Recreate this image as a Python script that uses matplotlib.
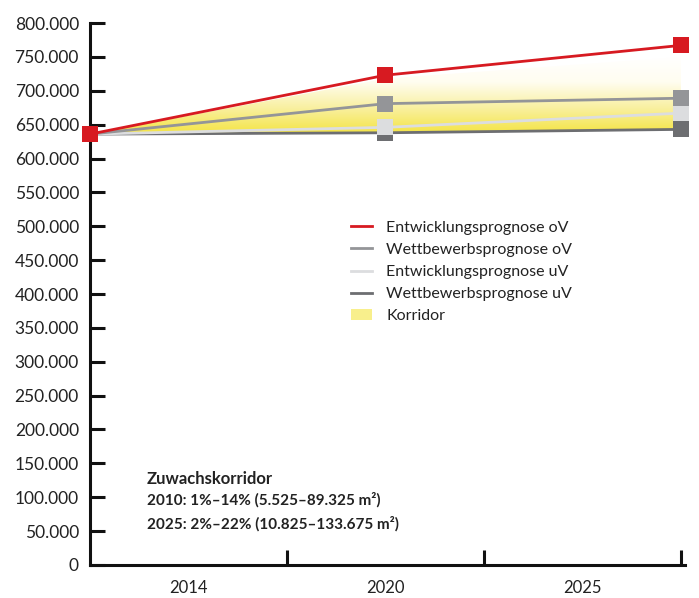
import numpy as np
import matplotlib
matplotlib.use("Agg")
import matplotlib.pyplot as plt
from matplotlib.colors import LinearSegmentedColormap
from matplotlib.patches import Rectangle
from matplotlib.ticker import FuncFormatter

plt.rcParams['font.family'] = ['Lato', 'DejaVu Sans']

# data
years = ["2010", "2020", "2025"]
tick_labels = ["2014", "2020", "2025"]
entw_ov = [636000, 723000, 767000]
wett_ov = [636000, 681000, 689000]
entw_uv = [636000, 646000, 667000]
wett_uv = [636000, 638000, 643000]
korridor_top = [636000, 718000, 750000]
korridor_bottom = [636000, 638000, 643000]

series = [
    ("Wettbewerbsprognose uV", wett_uv, "#6d6e71"),
    ("Entwicklungsprognose uV", entw_uv, "#dcdddf"),
    ("Wettbewerbsprognose oV", wett_ov, "#949598"),
    ("Entwicklungsprognose oV", entw_ov, "#d71a21"),
]

x = np.arange(len(years)) * 1.5

fig = plt.figure(figsize=(6.99, 5.98), dpi=100)
ax = fig.add_axes([0.1288, 0.0552, 0.851, 0.9063])

# corridor with vertical gradient white -> yellow
poly = ax.fill_between(x, korridor_bottom, korridor_top, color="none", lw=0)
cmap = LinearSegmentedColormap.from_list("korr", ["#f4e443", "#f9f0a0", "#fffdf0", "#ffffff"])
grad = np.linspace(0, 1, 256).reshape(-1, 1)
img = ax.imshow(grad, cmap=cmap, aspect="auto", origin="lower",
                extent=[x[0], x[-1], min(korridor_bottom), max(korridor_top)], zorder=1)
img.set_clip_path(poly.get_paths()[0], transform=ax.transData)

handles = []
for i, (name, vals, col) in enumerate(series):
    ln, = ax.plot(x, vals, color=col, lw=2.0, marker="s", markersize=11,
                  markeredgewidth=0, zorder=3 + i, clip_on=False, label=name)
    handles.append(ln)

ax.set_xlim(0, 3.02)
ax.set_ylim(0, 800000)

for s in ["top", "right"]:
    ax.spines[s].set_visible(False)
for s in ["left", "bottom"]:
    ax.spines[s].set_linewidth(2.2)
    ax.spines[s].set_color("#111111")
    ax.spines[s].set_zorder(2)

ax.set_yticks(np.arange(0, 800001, 50000))
ax.yaxis.set_major_formatter(FuncFormatter(lambda v, p: "0" if v == 0 else f"{int(v):,}".replace(",", ".")))
ax.tick_params(axis="y", direction="in", length=11, width=2.2, color="#111111",
               labelsize=12.5, pad=8, labelcolor="#222222")

ax.set_xticks([1, 2, 3])
ax.set_xticklabels([])
ax.set_xticks([0.5, 1.5, 2.5], minor=True)
ax.set_xticklabels(tick_labels, minor=True)
ax.tick_params(axis="x", which="major", direction="in", length=11, width=2.2, color="#111111")
ax.tick_params(axis="x", which="minor", length=0, labelsize=12, pad=11, labelcolor="#222222")

# legend
legend_handles = handles[::-1] + [Rectangle((0, 0), 1, 1, facecolor="#f8ef8c", edgecolor="none")]
legend_labels = [h.get_label() for h in handles[::-1]] + ["Korridor"]
leg = ax.legend(legend_handles, legend_labels, loc="upper left",
                bbox_to_anchor=(0.415, 0.662), frameon=False, fontsize=11.5,
                handlelength=1.3, handletextpad=0.9, labelspacing=0.5,
                labelcolor="#222222")
for h in leg.legend_handles[:4]:
    h.set_marker("")

ax.text(0.095, 0.159, "Zuwachskorridor", transform=ax.transAxes, fontsize=12,
        fontweight="bold", color="#222222", va="center")
ax.text(0.095, 0.120, "2010: 1%–14% (5.525–89.325 m²)", transform=ax.transAxes,
        fontsize=11, fontweight="bold", color="#222222", va="center")
ax.text(0.095, 0.0756, "2025: 2%–22% (10.825–133.675 m²)", transform=ax.transAxes,
        fontsize=11, fontweight="bold", color="#222222", va="center")

fig.savefig("out.png", dpi=100)
